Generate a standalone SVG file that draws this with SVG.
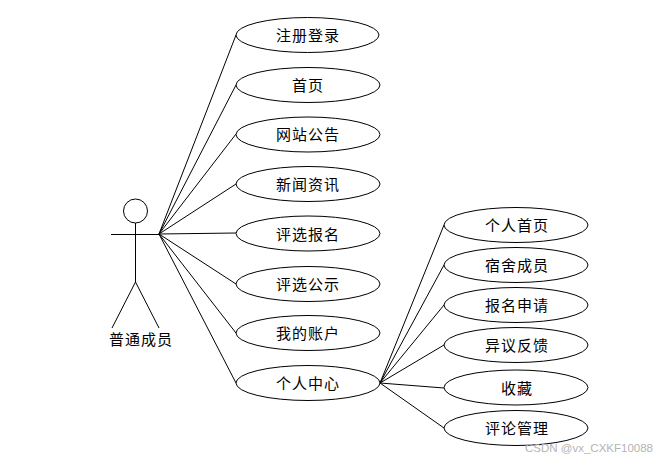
<svg xmlns="http://www.w3.org/2000/svg" width="665" height="461" viewBox="0 0 665 461">
<style>
.n{fill:#fff;stroke:#000;stroke-width:1}
.l{fill:none;stroke:#000;stroke-width:1}
text{font-family:"Noto Sans CJK SC","Liberation Sans",sans-serif;font-size:15px;text-anchor:middle;fill:#000;letter-spacing:1px}
.w{font-family:"Liberation Sans",sans-serif;font-size:11.500px;fill:#b4b4b4;letter-spacing:0;text-anchor:start}
</style>
<rect width="665" height="461" fill="#fff"/>
<g id="connectors" class="l">
<path class="l" d="M159 234L236 35M159 234L236 85M159 234L236 134M159 234L236 184M159 234L236 233M159 234L236 284M159 234L236 333M159 234L236 383"/>
<path class="l" d="M380 383L444 225M380 383L444 265M380 383L444 305M380 383L444 345M380 383L444 388M380 383L444 428"/>
</g>
<g id="actor">
<circle class="l" cx="135.500" cy="211" r="12"/>
<path class="l" d="M111 234.500H159M135.500 223V282M135.500 282L112 328M135.500 282L159 328"/>
<text x="141" y="345">普通成员</text>
</g>
<g id="n1"><ellipse class="n" cx="307.500" cy="35" rx="71.500" ry="17.500"/><text x="308" y="41">注册登录</text></g>
<g id="n2"><ellipse class="n" cx="308" cy="85" rx="72" ry="17.500"/><text x="308" y="91">首页</text></g>
<g id="n3"><ellipse class="n" cx="308" cy="134.500" rx="72" ry="17.500"/><text x="308" y="140">网站公告</text></g>
<g id="n4"><ellipse class="n" cx="308" cy="184" rx="72" ry="17.500"/><text x="308" y="190">新闻资讯</text></g>
<g id="n5"><ellipse class="n" cx="308" cy="233.500" rx="72" ry="17.500"/><text x="308" y="240">评选报名</text></g>
<g id="n6"><ellipse class="n" cx="308" cy="284" rx="72" ry="17.500"/><text x="308" y="290">评选公示</text></g>
<g id="n7"><ellipse class="n" cx="308" cy="333" rx="72" ry="17.500"/><text x="308" y="339">我的账户</text></g>
<g id="n8"><ellipse class="n" cx="308" cy="383" rx="72" ry="17.500"/><text x="308" y="389">个人中心</text></g>
<g id="n9"><ellipse class="n" cx="516" cy="225" rx="72" ry="17.500"/><text x="517" y="231">个人首页</text></g>
<g id="n10"><ellipse class="n" cx="516" cy="265" rx="72" ry="17.500"/><text x="517" y="271">宿舍成员</text></g>
<g id="n11"><ellipse class="n" cx="516" cy="305" rx="72" ry="17.500"/><text x="517" y="311">报名申请</text></g>
<g id="n12"><ellipse class="n" cx="516" cy="345" rx="72" ry="17.500"/><text x="517" y="351">异议反馈</text></g>
<g id="n13"><ellipse class="n" cx="516" cy="387.500" rx="72" ry="17.500"/><text x="517" y="394">收藏</text></g>
<g id="n14"><ellipse class="n" cx="516" cy="428" rx="72" ry="17.500"/><text x="517" y="434">评论管理</text></g>
<text class="w" x="525" y="452">CSDN @vx_CXKF10088</text>
</svg>
